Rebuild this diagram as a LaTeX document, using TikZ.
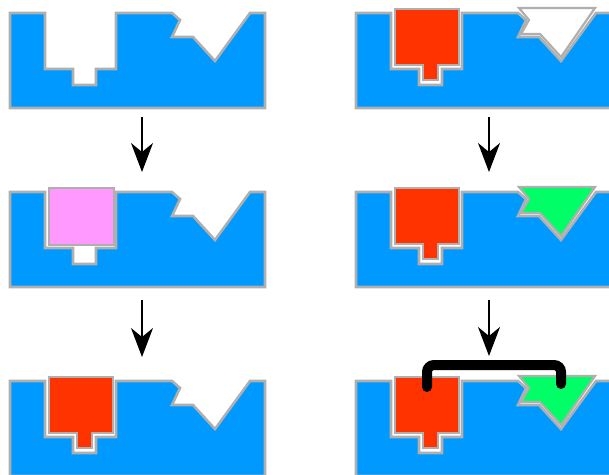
\documentclass[tikz,border=0pt]{standalone}
\usetikzlibrary{arrows.meta}
\definecolor{blockblue}{HTML}{0099FF}
\definecolor{edgegray}{HTML}{AFAFAF}
\definecolor{keyred}{HTML}{FF3300}
\definecolor{keypink}{HTML}{FF99FF}
\definecolor{keygreen}{HTML}{00FF66}
\tikzset{
  blockedge/.style={draw=edgegray, line width=2.6pt, fill=blockblue, line join=miter},
  pieceedge/.style={draw=edgegray, line width=2.2pt, line join=miter},
  flow/.style={line width=1.3pt, -{Stealth[length=29pt,width=22pt,inset=9pt]}},
  bracket/.style={line width=10pt, line cap=round, rounded corners=7pt},
  % base plate with a stepped socket and a notched triangular socket
  pics/plate/.style={code={
    \draw[blockedge] (10,13) -- (45,13) -- (45,69) -- (73,69) -- (73,85) -- (96,85)
      -- (96,69) -- (116,69) -- (116,13) -- (172,13) -- (180,20) -- (172,37)
      -- (193,37) -- (215,61) -- (250,13) -- (265,13) -- (265,108) -- (10,108) -- cycle;
  }},
  % stepped key that sits in the left socket
  pics/stepkey/.style={code={
    \draw[pieceedge, fill=#1] (49,9) -- (113,9) -- (113,65) -- (92,65) -- (92,80)
      -- (77,80) -- (77,65) -- (49,65) -- cycle;
  }},
  % square block resting in the upper part of the socket
  pics/squarekey/.style={code={
    \draw[pieceedge, fill=#1] (49,9) rectangle (114,66);
  }},
  % triangular key with a notch on its left side
  pics/trikey/.style={code={
    \draw[pieceedge, fill=#1] (173,8) -- (183,20) -- (175,34) -- (194,34)
      -- (215,57) -- (249,8) -- cycle;
  }},
}
\begin{document}
\begin{tikzpicture}[x=1pt, y=-1pt]
  \useasboundingbox (0,0) rectangle (609,474);
  \clip (0,0) rectangle (609,474);

  % left column
  \pic (L1) at (0,0) {plate};
  \pic (L2) at (0,179) {plate};
  \pic (L2k) at (0,179) {squarekey=keypink};
  \pic (L3) at (0,368) {plate};
  \pic (L3k) at (0,368) {stepkey=keyred};

  % right column
  \pic (R1) at (346,0) {plate};
  \pic (R1a) at (346,0) {stepkey=keyred};
  \pic (R1b) at (346,0) {trikey=white};
  \pic (R2) at (346,179) {plate};
  \pic (R2a) at (346,179) {stepkey=keyred};
  \pic (R2b) at (346,179) {trikey=keygreen};
  \pic (R3) at (346,368) {plate};
  \pic (R3a) at (346,368) {stepkey=keyred};
  \pic (R3b) at (346,368) {trikey=keygreen};

  % link joining the two keys
  \coordinate (linkA) at (427,387);
  \coordinate (linkB) at (561,384);
  \draw[bracket] (linkA) -- ++(0,-22) -| (linkB);

  % process arrows
  \coordinate (a1s) at (142,117); \coordinate (a1e) at (142,172);
  \coordinate (a2s) at (142,300); \coordinate (a2e) at (142,357);
  \coordinate (b1s) at (489,117); \coordinate (b1e) at (489,172);
  \coordinate (b2s) at (489,300); \coordinate (b2e) at (489,356);
  \draw[flow] (a1s) -- (a1e);
  \draw[flow] (a2s) -- (a2e);
  \draw[flow] (b1s) -- (b1e);
  \draw[flow] (b2s) -- (b2e);
\end{tikzpicture}
\end{document}
